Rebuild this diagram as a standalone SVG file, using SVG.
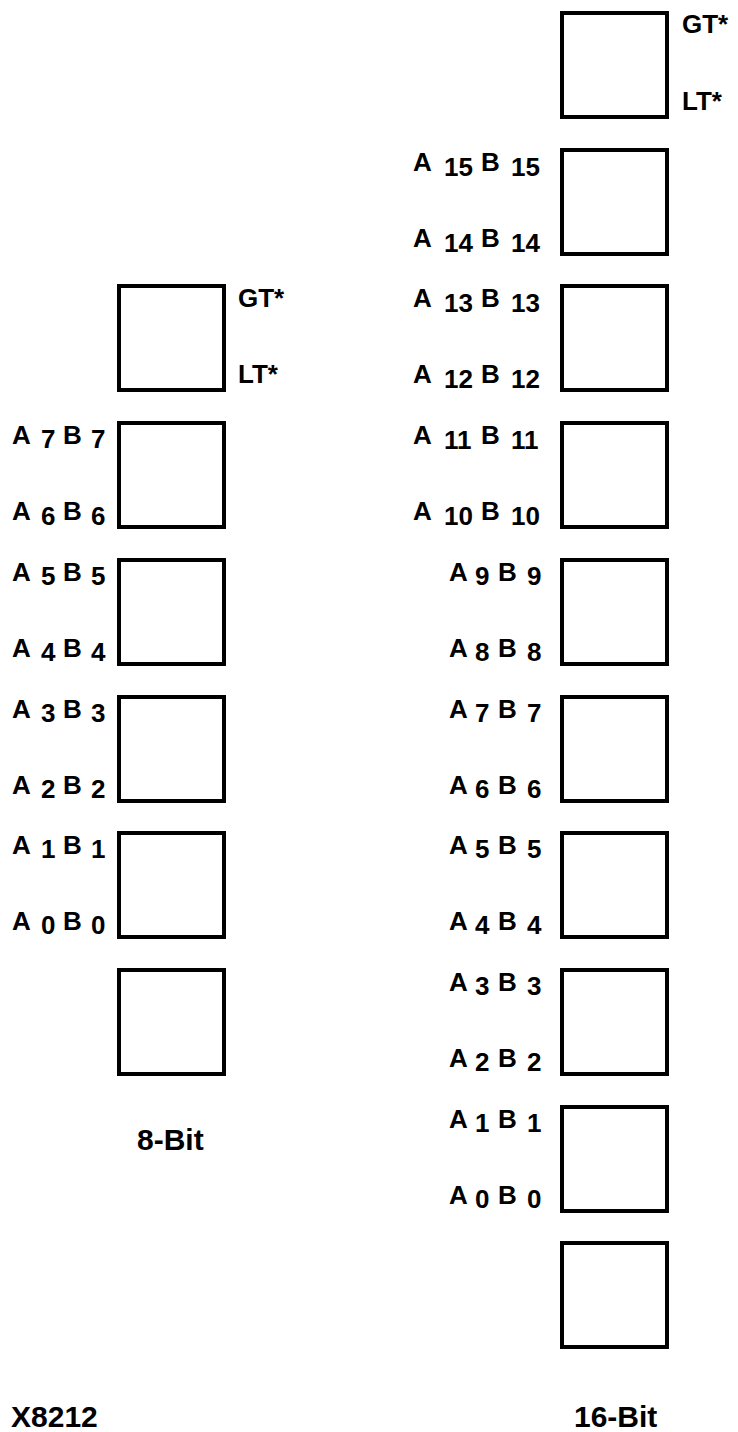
<svg xmlns="http://www.w3.org/2000/svg" width="738" height="1432" viewBox="0 0 738 1432">
<style>
.box{fill:#fff;stroke:#000;stroke-width:4}
.lbl{font-family:"Liberation Sans",Arial,Helvetica,sans-serif;font-weight:bold;font-size:26px;fill:#000}
.cap{font-family:"Liberation Sans",Arial,Helvetica,sans-serif;font-weight:bold;font-size:30px;fill:#000}
</style>
<rect width="738" height="1432" fill="#fff"/>
<!-- 8-bit column -->
<g id="l0"><rect class="box" x="119" y="286" width="105" height="104"/>
<text class="lbl" x="238" y="307">GT*</text><text class="lbl" x="238" y="383">LT*</text></g>
<g id="l1"><rect class="box" x="119" y="423" width="105" height="104"/>
<text class="lbl" x="12" y="444">A<tspan x="41" dy="4">7</tspan><tspan x="63" dy="-4">B</tspan><tspan x="91" dy="4">7</tspan></text>
<text class="lbl" x="12" y="520">A<tspan x="41" dy="5">6</tspan><tspan x="63" dy="-5">B</tspan><tspan x="91" dy="5">6</tspan></text></g>
<g id="l2"><rect class="box" x="119" y="560" width="105" height="104"/>
<text class="lbl" x="12" y="581">A<tspan x="41" dy="4">5</tspan><tspan x="63" dy="-4">B</tspan><tspan x="91" dy="4">5</tspan></text>
<text class="lbl" x="12" y="657">A<tspan x="41" dy="4">4</tspan><tspan x="63" dy="-4">B</tspan><tspan x="91" dy="4">4</tspan></text></g>
<g id="l3"><rect class="box" x="119" y="697" width="105" height="104"/>
<text class="lbl" x="12" y="718">A<tspan x="41" dy="4">3</tspan><tspan x="63" dy="-4">B</tspan><tspan x="91" dy="4">3</tspan></text>
<text class="lbl" x="12" y="794">A<tspan x="41" dy="4">2</tspan><tspan x="63" dy="-4">B</tspan><tspan x="91" dy="4">2</tspan></text></g>
<g id="l4"><rect class="box" x="119" y="833" width="105" height="104"/>
<text class="lbl" x="12" y="854">A<tspan x="41" dy="4">1</tspan><tspan x="63" dy="-4">B</tspan><tspan x="91" dy="4">1</tspan></text>
<text class="lbl" x="12" y="930">A<tspan x="41" dy="4">0</tspan><tspan x="63" dy="-4">B</tspan><tspan x="91" dy="4">0</tspan></text></g>
<g id="l5"><rect class="box" x="119" y="970" width="105" height="104"/></g>
<text class="cap" x="137" y="1150">8-Bit</text>
<!-- 16-bit column -->
<g id="r0"><rect class="box" x="562" y="13" width="105" height="104"/>
<text class="lbl" x="682" y="33">GT*</text><text class="lbl" x="682" y="110">LT*</text></g>
<g id="r1"><rect class="box" x="562" y="150" width="105" height="104"/>
<text class="lbl" x="413" y="171">A<tspan x="444" dy="5">15</tspan><tspan x="481" dy="-5">B</tspan><tspan x="511" dy="5">15</tspan></text>
<text class="lbl" x="413" y="247">A<tspan x="444" dy="5">14</tspan><tspan x="481" dy="-5">B</tspan><tspan x="511" dy="5">14</tspan></text></g>
<g id="r2"><rect class="box" x="562" y="286" width="105" height="104"/>
<text class="lbl" x="413" y="307">A<tspan x="444" dy="5">13</tspan><tspan x="481" dy="-5">B</tspan><tspan x="511" dy="5">13</tspan></text>
<text class="lbl" x="413" y="383">A<tspan x="444" dy="5">12</tspan><tspan x="481" dy="-5">B</tspan><tspan x="511" dy="5">12</tspan></text></g>
<g id="r3"><rect class="box" x="562" y="423" width="105" height="104"/>
<text class="lbl" x="413" y="444">A<tspan x="444" dy="5">11</tspan><tspan x="481" dy="-5">B</tspan><tspan x="511" dy="5">11</tspan></text>
<text class="lbl" x="413" y="520">A<tspan x="444" dy="5">10</tspan><tspan x="481" dy="-5">B</tspan><tspan x="511" dy="5">10</tspan></text></g>
<g id="r4"><rect class="box" x="562" y="560" width="105" height="104"/>
<text class="lbl" x="449" y="581">A<tspan x="475" dy="4">9</tspan><tspan x="498" dy="-4">B</tspan><tspan x="527" dy="4">9</tspan></text>
<text class="lbl" x="449" y="657">A<tspan x="475" dy="4">8</tspan><tspan x="498" dy="-4">B</tspan><tspan x="527" dy="4">8</tspan></text></g>
<g id="r5"><rect class="box" x="562" y="697" width="105" height="104"/>
<text class="lbl" x="449" y="718">A<tspan x="475" dy="4">7</tspan><tspan x="498" dy="-4">B</tspan><tspan x="527" dy="4">7</tspan></text>
<text class="lbl" x="449" y="794">A<tspan x="475" dy="4">6</tspan><tspan x="498" dy="-4">B</tspan><tspan x="527" dy="4">6</tspan></text></g>
<g id="r6"><rect class="box" x="562" y="833" width="105" height="104"/>
<text class="lbl" x="449" y="854">A<tspan x="475" dy="4">5</tspan><tspan x="498" dy="-4">B</tspan><tspan x="527" dy="4">5</tspan></text>
<text class="lbl" x="449" y="930">A<tspan x="475" dy="4">4</tspan><tspan x="498" dy="-4">B</tspan><tspan x="527" dy="4">4</tspan></text></g>
<g id="r7"><rect class="box" x="562" y="970" width="105" height="104"/>
<text class="lbl" x="449" y="991">A<tspan x="475" dy="4">3</tspan><tspan x="498" dy="-4">B</tspan><tspan x="527" dy="4">3</tspan></text>
<text class="lbl" x="449" y="1067">A<tspan x="475" dy="4">2</tspan><tspan x="498" dy="-4">B</tspan><tspan x="527" dy="4">2</tspan></text></g>
<g id="r8"><rect class="box" x="562" y="1107" width="105" height="104"/>
<text class="lbl" x="449" y="1128">A<tspan x="475" dy="4">1</tspan><tspan x="498" dy="-4">B</tspan><tspan x="527" dy="4">1</tspan></text>
<text class="lbl" x="449" y="1204">A<tspan x="475" dy="4">0</tspan><tspan x="498" dy="-4">B</tspan><tspan x="527" dy="4">0</tspan></text></g>
<g id="r9"><rect class="box" x="562" y="1243" width="105" height="104"/></g>
<text class="cap" x="574" y="1427">16-Bit</text>
<text class="cap" x="11" y="1427">X8212</text>
</svg>
